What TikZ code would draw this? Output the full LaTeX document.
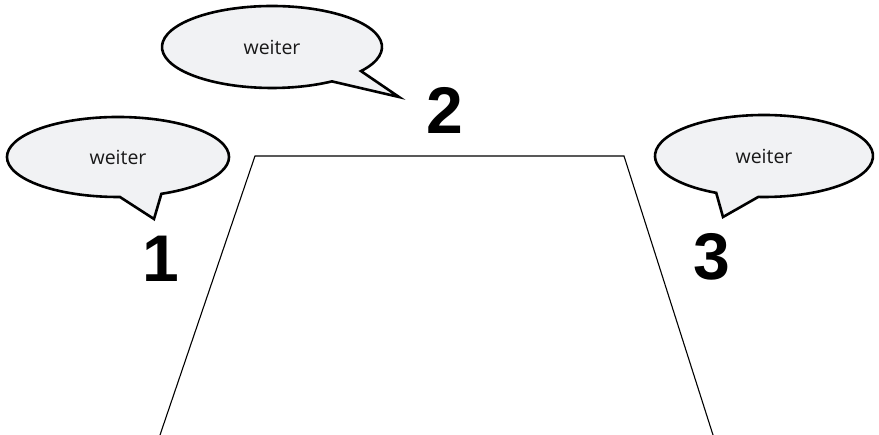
\documentclass[tikz,border=0pt]{standalone}
\usepackage{fontspec}
\setmainfont{Liberation Sans}
\newfontfamily\bullefont{Open Sans}
\definecolor{fondbulle}{RGB}{241,242,244}
\begin{document}
\begin{tikzpicture}[x=1pt,y=1pt]
\tikzstyle{bulle} = [draw=black,fill=fondbulle,line width=2.6pt,line join=miter] %bulles
\tikzstyle{mot} = [font=\bullefont\fontsize{19.5}{22}\selectfont,text=black!90]
\tikzstyle{numero} = [font=\fontsize{66}{70}\selectfont\bfseries,inner sep=0pt]
\useasboundingbox (0,0) rectangle (879,435);
%trapeze
\coordinate (bg) at (160,0);
\coordinate (hg) at (255,279);
\coordinate (hd) at (624,279);
\coordinate (bd) at (713,0);
\draw[line width=1.1pt] (bg)--(hg)--(hd)--(bd);
%bulle 1
\coordinate (c1) at (118,278);
\coordinate (p1) at (154,216);
\filldraw[bulle] (c1) ++(293:111 and 40) arc[start angle=293,end angle=631,x radius=111,y radius=40]--(p1)--cycle;
\node[mot] (m1) at (c1) {weiter};
%bulle 2
\coordinate (c2) at (272,388);
\coordinate (p2) at (399,338);
\filldraw[bulle] (c2) ++(324:110 and 41) arc[start angle=324,end angle=663,x radius=110,y radius=41]--(p2)--cycle;
\node[mot] (m2) at (c2) {weiter};
%bulle 3
\coordinate (c3) at (764,279);
\coordinate (p3) at (723,218);
\filldraw[bulle] (c3) ++(267:109 and 41) arc[start angle=267,end angle=604,x radius=109,y radius=41]--(p3)--cycle;
\node[mot] (m3) at (c3) {weiter};
%numeros
\node[numero] (n1) at (161,176) {1};
\node[numero] (n2) at (445,325) {2};
\node[numero] (n3) at (712,178) {3};
\end{tikzpicture}
\end{document}
